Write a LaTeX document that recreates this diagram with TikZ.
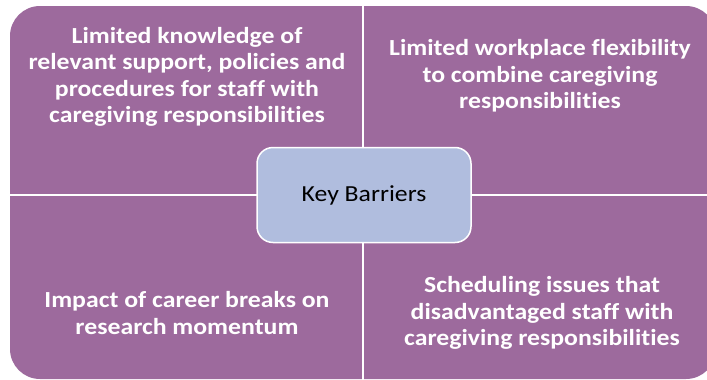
\documentclass[tikz,border=0pt]{standalone}
\usepackage{fontspec}
\setmainfont{Carlito}[FakeStretch=1.12,Ligatures=NoCommon]
\definecolor{quadfill}{RGB}{157,106,157}
\definecolor{hubfill}{RGB}{176,189,222}
\begin{document}
\begin{tikzpicture}[x=1pt,y=-1pt,
  quadtext/.style={text=white,font=\bfseries\fontsize{23}{26.5}\selectfont,align=center},
  hub/.style={draw=white,line width=1.5pt,fill=hubfill,rounded corners=16pt,
    minimum width=214pt,minimum height=95pt,font=\fontsize{23}{26}\selectfont,text=black}]
  \useasboundingbox (0,0) rectangle (707,380);
  % purple matrix background split into four quadrants
  \fill[quadfill,rounded corners=30pt] (10,6) rectangle (716,379);
  \draw[white,line width=2pt] (363,0) -- (363,380);
  \draw[white,line width=2pt] (0,195) -- (707,195);
  % quadrant labels
  \node[quadtext] (tl) at (187,77) {Limited knowledge of\\relevant support, policies and\\procedures for staff with\\caregiving responsibilities};
  \node[quadtext] (tr) at (540,76) {Limited workplace flexibility\\to combine caregiving\\responsibilities};
  \node[quadtext] (bl) at (187,313) {Impact of career breaks on\\research momentum};
  \node[quadtext] (br) at (542,313) {Scheduling issues that\\disadvantaged staff with\\caregiving responsibilities};
  % central box
  \node[hub] (key) at (364,195) {Key Barriers};
\end{tikzpicture}
\end{document}
